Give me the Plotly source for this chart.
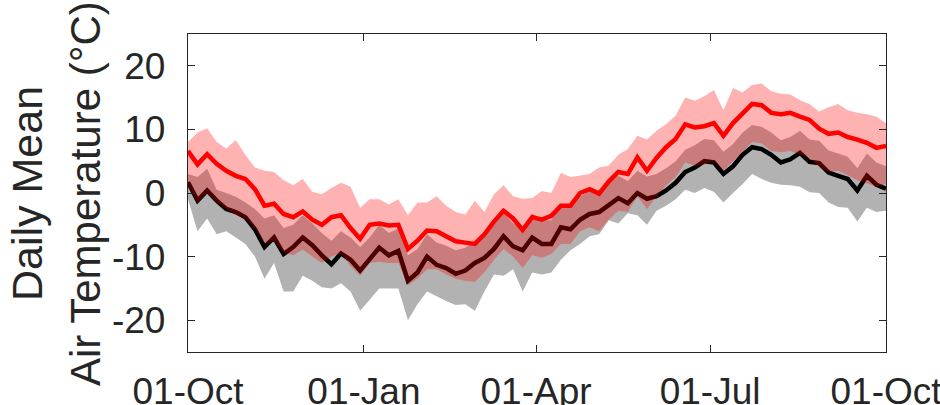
import pandas as pd
import plotly.graph_objects as go

# sample days after 01-Oct (every 5 days)
days = list(range(0, 366, 5))
start_date = "2014-10-01"

red_mean = [6.6, 4.5, 6.1, 4.6, 3.5, 2.7, 2.2, 0.6, -2.0, -1.7, -3.3,
            -3.8, -2.9, -4.2, -5.0, -3.8, -3.5, -5.5, -7.2, -5.0, -4.8, -5.1,
            -5.0, -8.8, -7.5, -5.9, -6.0, -6.8, -7.6, -7.8, -8.0, -6.5,
            -4.5, -2.8, -4.0, -5.8, -3.8, -4.2, -3.6, -2.0, -2.0, 0.0, 0.6,
            -0.1, 1.8, 3.3, 3.0, 5.6, 3.5, 5.5, 7.2, 8.5, 10.8,
            10.3, 10.5, 11.0, 9.0, 11.0, 12.5, 14.0, 13.8, 12.6, 12.4,
            12.6, 12.0, 11.5, 10.1, 9.3, 9.5, 8.8, 8.4, 7.9, 7.1, 7.4]
red_hi = [8.0, 9.5, 10.2, 8.0, 7.0, 8.3, 6.0, 4.0, 3.5, 3.3, 2.0,
          1.2, 2.2, 0.2, -0.2, 0.8, 1.6, 1.0, -2.3, -1.0, -1.0, -1.8,
          -1.0, -3.5, -1.5, -1.5, -0.5, -2.0, -3.0, -3.4, -1.2, -3.0,
          -0.2, 1.2, -0.5, -0.9, -0.8, 0.3, 0.0, 3.2, 2.5, 2.8, 3.0,
          4.0, 4.3, 6.0, 6.9, 9.0, 8.4, 9.8, 10.8, 12.2, 15.0,
          14.5, 15.2, 16.2, 13.0, 16.5, 15.8, 17.0, 17.2, 16.0, 15.6,
          15.5, 14.6, 14.0, 12.8, 13.5, 14.0, 13.0, 12.6, 12.4, 12.0, 11.0]
red_lo = [1.0, -1.5, 0.0, -1.5, -2.5, -3.5, -4.0, -5.5, -8.0, -7.5, -9.3,
          -9.8, -8.9, -10.0, -11.0, -10.0, -9.5, -11.5, -13.0, -11.0, -10.8, -11.0,
          -11.0, -14.5, -13.5, -12.0, -12.0, -12.8, -13.5, -13.8, -14.0, -12.5,
          -10.5, -8.8, -10.0, -11.8, -9.8, -10.2, -9.6, -8.0, -8.0, -6.0, -5.4,
          -6.0, -4.2, -2.8, -3.0, -0.5, -2.5, -0.5, 1.2, 2.5, 4.8,
          4.3, 4.5, 5.0, 3.5, 5.0, 6.5, 8.0, 7.8, 6.6, 6.4,
          6.6, 6.0, 5.5, 4.1, 3.3, 3.5, 2.8, 2.0, 1.5, 1.0, 1.4]

black_mean = [1.7, -1.2, 0.4, -1.2, -2.5, -3.0, -3.8, -5.7, -8.5, -7.0, -9.6,
              -8.5, -7.0, -8.2, -9.8, -11.2, -9.5, -10.5, -12.2, -10.5, -8.6, -9.8,
              -9.1, -13.8, -12.5, -10.0, -11.3, -11.8, -12.7, -12.2, -11.0, -10.2,
              -8.8, -6.8, -8.4, -9.0, -7.0, -8.0, -8.0, -5.4, -5.7, -4.2, -3.3,
              -3.0, -1.8, -0.8, -1.6, 0.0, -0.9, -0.5, 0.4, 1.6, 3.3,
              4.0, 5.0, 4.8, 3.0, 4.2, 6.0, 7.2, 6.9, 6.0, 4.8,
              5.3, 6.3, 4.9, 4.7, 3.2, 2.7, 2.2, 0.4, 2.7, 1.3, 0.7]
gray_hi = [3.0, 2.5, 3.8, 0.5, 0.0, -0.6, -1.5, -2.5, -4.0, -3.5, -5.5,
           -5.0, -3.5, -4.8, -6.3, -7.5, -6.0, -7.0, -8.5, -7.0, -5.0, -6.3,
           -5.6, -9.8, -8.8, -6.5, -7.8, -8.3, -9.0, -8.6, -7.5, -6.7,
           -5.0, -3.0, -4.8, -5.5, -3.3, -4.3, -4.3, -1.8, -2.0, -0.5, 0.3,
           0.5, 1.7, 2.7, 1.9, 3.5, 2.6, 3.0, 3.9, 5.0, 6.8,
           7.5, 8.5, 8.3, 6.5, 7.7, 9.5, 10.7, 10.4, 9.5, 8.3,
           8.8, 9.8, 8.4, 8.2, 6.7, 6.2, 5.7, 3.9, 6.2, 4.8, 4.2]
gray_lo = [-1.0, -6.0, -4.0, -6.5, -6.0, -7.0, -8.0, -10.0, -13.5, -11.0, -15.5,
           -15.5, -13.0, -13.8, -14.8, -15.0, -14.2, -15.5, -18.5, -16.8, -15.0, -15.0,
           -15.0, -20.0, -17.5, -15.5, -16.2, -17.0, -17.6, -17.5, -18.5, -15.5,
           -12.8, -13.0, -12.0, -15.5, -12.5, -12.8, -12.5, -10.5, -9.0, -8.0, -6.8,
           -6.5, -4.3, -4.8, -3.2, -3.5, -5.0, -2.8, -2.0, -1.0, 0.5,
           0.0, 0.8, 0.2, -1.5, 0.0, 1.4, 3.0, 2.2, 1.6, 1.3,
           1.2, 1.0, 0.1, 0.0, -1.5, -2.2, -2.3, -4.5, -2.3, -3.0, -2.8]

tick_dates = ["2014-10-01", "2015-01-01", "2015-04-01", "2015-07-01", "2015-10-01"]
tick_labels = ["01-Oct", "01-Jan", "01-Apr", "01-Jul", "01-Oct"]
y_ticks = [-20, -10, 0, 10, 20]
y_tick_labels = ["-20", "-10", "0", "10", "20"]

dates = list(pd.Timestamp(start_date) + pd.to_timedelta(days, unit="D"))
rev = dates[::-1]

fig = go.Figure()
fig.add_trace(go.Scatter(x=dates + rev, y=gray_hi + gray_lo[::-1], fill="toself",
                         fillcolor="rgba(0,0,0,0.3)", line=dict(width=0),
                         mode="lines", hoverinfo="skip", showlegend=False))
fig.add_trace(go.Scatter(x=dates, y=black_mean, mode="lines",
                         line=dict(color="black", width=4.5), showlegend=False))
fig.add_trace(go.Scatter(x=dates + rev, y=red_hi + red_lo[::-1], fill="toself",
                         fillcolor="rgba(255,0,0,0.3)", line=dict(width=0),
                         mode="lines", hoverinfo="skip", showlegend=False))
fig.add_trace(go.Scatter(x=dates, y=red_mean, mode="lines",
                         line=dict(color="#ff0000", width=4.5), showlegend=False))

axcol = "#262626"
fig.update_layout(
    width=940, height=405,
    margin=dict(l=188, r=54, t=34, b=53),
    paper_bgcolor="white", plot_bgcolor="white",
    font=dict(family="Liberation Sans, Arial, sans-serif", size=37, color=axcol),
    xaxis=dict(range=[tick_dates[0], tick_dates[-1]], tickvals=tick_dates, ticktext=tick_labels,
               showgrid=False, zeroline=False, showline=True, linecolor=axcol, linewidth=1.3,
               mirror="ticks", ticks="inside", ticklen=7, tickwidth=1.3, tickcolor=axcol,
               ticklabelstandoff=6, automargin=False, ticklabeloverflow="allow"),
    yaxis=dict(range=[-25, 25], tickvals=y_ticks, ticktext=y_tick_labels,
               showgrid=False, zeroline=False, showline=True, linecolor=axcol, linewidth=1.3,
               mirror="ticks", ticks="inside", ticklen=7, tickwidth=1.3, tickcolor=axcol,
               ticklabelstandoff=14, automargin=False, ticklabeloverflow="allow"),
    annotations=[
        dict(text="Daily Mean", xref="paper", yref="paper", x=-0.2307, y=0.5,
             textangle=-90, showarrow=False, font=dict(size=43, color=axcol),
             xanchor="center", yanchor="middle"),
        dict(text="Air Temperature (°C)", xref="paper", yref="paper", x=-0.1476, y=0.5,
             textangle=-90, showarrow=False, font=dict(size=42, color=axcol),
             xanchor="center", yanchor="middle"),
    ],
)

fig.write_html("out.html")
